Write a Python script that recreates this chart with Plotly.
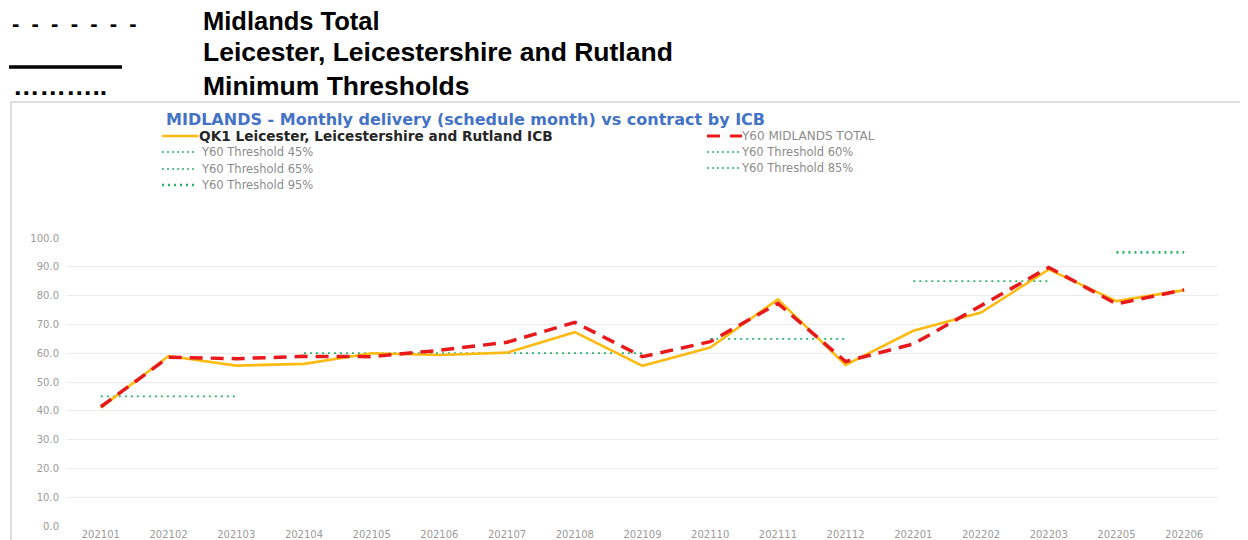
import plotly.graph_objects as go

# ---------------- data ----------------
months = ["202101", "202102", "202103", "202104", "202105", "202106", "202107",
          "202108", "202109", "202110", "202111", "202112", "202201", "202202",
          "202203", "202205", "202206"]
leicester = [41.1, 59.0, 55.7, 56.3, 60.0, 59.4, 60.2, 67.3, 55.6, 62.0, 78.7,
             55.9, 67.8, 74.1, 89.1, 78.1, 81.9]
midlands = [41.4, 58.6, 58.1, 58.9, 58.8, 61.0, 63.8, 70.7, 58.8, 64.0, 77.3,
            57.1, 63.2, 76.5, 89.8, 77.1, 82.0]
threshold_names = ["Y60 Threshold 45%", "Y60 Threshold 60%", "Y60 Threshold 65%",
                   "Y60 Threshold 85%", "Y60 Threshold 95%"]
threshold_values = [45, 60, 65, 85, 95]
threshold_start = ["202101", "202104", "202110", "202201", "202205"]
threshold_end = ["202103", "202109", "202112", "202203", "202206"]
y_ticks = [0, 10, 20, 30, 40, 50, 60, 70, 80, 90, 100]

# ---------------- layout geometry ----------------
OFF = 8                      # page body margin of the html page
W, H = 1248 - OFF, 540 - OFF
PL, PR, PT, PB = 67, 1218, 238, 526   # plot area in window pixels


def px(x):
    return (x - PL) / (PR - PL)


def py(y):
    return (PB - y) / (PB - PT)


ORANGE = "#FDBA12"
RED = "#E8191B"
GREEN = "#2DB36A"
CHART_FONT = "DejaVu Sans"
HEAD_FONT = "Liberation Sans"

fig = go.Figure()

# threshold lines
for name, val, s, e in zip(threshold_names, threshold_values,
                           threshold_start, threshold_end):
    i0, i1 = months.index(s), months.index(e)
    ys = [val if i0 <= k <= i1 else None for k in range(len(months))]
    fig.add_trace(go.Scatter(
        x=months, y=ys, mode="lines", name=name, showlegend=False,
        line=dict(color=GREEN, width=2.6 if val == 95 else 1.8,
                  dash="2px,4px"),
        connectgaps=False, hoverinfo="skip"))

fig.add_trace(go.Scatter(
    x=months, y=leicester, mode="lines",
    name="QK1 Leicester, Leicestershire and Rutland ICB", showlegend=False,
    line=dict(color=ORANGE, width=2.6)))
fig.add_trace(go.Scatter(
    x=months, y=midlands, mode="lines", name="Y60 MIDLANDS TOTAL",
    showlegend=False, line=dict(color=RED, width=3.5, dash="13px,8px")))

shapes = []
annotations = []


def note(text, x, y, font):
    annotations.append(dict(text=text, x=px(x), y=py(y), xref="paper",
                            yref="paper", xanchor="left", yanchor="middle",
                            showarrow=False, font=font, borderpad=0))


# frame of the pasted chart
shapes.append(dict(type="rect", xref="paper", yref="paper",
                   x0=px(11), x1=px(1243), y0=py(560), y1=py(102),
                   line=dict(color="#D4D4D4", width=1.5), layer="below"))

# ---------- header (black text key) ----------
head = dict(family=HEAD_FONT, size=26.5, color="#000000", weight="bold")
note("- \u00a0".join(["-"] * 6) + "- \u00a0-" if False else " \u00a0".join(["-"] * 7),
     11, 23, dict(head, size=22))
note("Midlands Total", 202, 21, dict(head, size=25.5))
note("Leicester, Leicestershire and Rutland", 202, 52, head)
note("Minimum Thresholds", 202, 86, head)
note("………..", 12, 86, head)
shapes.append(dict(type="line", xref="paper", yref="paper", x0=px(9), x1=px(122),
                   y0=py(67), y1=py(67), line=dict(color="#000000", width=3.5)))

# ---------- chart title & legend ----------
note("MIDLANDS - Monthly delivery (schedule month) vs contract by ICB", 165, 120,
     dict(family=CHART_FONT, size=16, color="#4472C4", weight="bold"))

legend_rows = [
    ("QK1 Leicester, Leicestershire and Rutland ICB", 162, 198, 198, 136, "solid"),
    ("Y60 MIDLANDS TOTAL", 707, 742, 740, 136, "red"),
    (threshold_names[0], 162, 197, 200, 152, "dot"),
    (threshold_names[1], 707, 740, 740, 152, "dot"),
    (threshold_names[2], 162, 197, 200, 169, "dot"),
    (threshold_names[3], 707, 740, 740, 168, "dot"),
    (threshold_names[4], 162, 197, 200, 185, "dot95"),
]
gray = dict(family=CHART_FONT, size=11.5, color="#8C8C8C")
for text, x0, x1, tx, yy, kind in legend_rows:
    if kind == "solid":
        ln = dict(color=ORANGE, width=2.6)
        fnt = dict(family=CHART_FONT, size=13.7, color="#262626", weight="bold")
    elif kind == "red":
        ln = dict(color=RED, width=3, dash="13px,10px")
        fnt = dict(gray, size=12)
    elif kind == "dot95":
        ln = dict(color=GREEN, width=2.4, dash="2px,4px")
        fnt = gray
    else:
        ln = dict(color=GREEN, width=1.6, dash="2px,3px")
        fnt = gray
    shapes.append(dict(type="line", xref="paper", yref="paper", x0=px(x0),
                       x1=px(x1), y0=py(yy), y1=py(yy), line=ln))
    note(text, tx, yy, fnt)

fig.update_layout(
    width=W, height=H,
    margin=dict(l=PL - OFF, r=W - (PR - OFF), t=PT - OFF, b=H - (PB - OFF),
                autoexpand=False),
    paper_bgcolor="white", plot_bgcolor="white",
    showlegend=False,
    shapes=shapes, annotations=annotations,
    xaxis=dict(type="category", categoryorder="array", categoryarray=months,
               range=[-0.5, len(months) - 0.5],
               showgrid=False, zeroline=False, showline=False, ticks="",
               tickfont=dict(family=CHART_FONT, size=10, color="#9A9A9A"),
               ticklabelstandoff=1),
    yaxis=dict(range=[0, 100], tickvals=y_ticks, tickformat=".1f",
               showgrid=True, gridcolor="#EBEBEB", gridwidth=1,
               zeroline=False, showline=False, ticks="",
               tickfont=dict(family=CHART_FONT, size=10, color="#9A9A9A"),
               ticklabelstandoff=7),
)

fig.write_html("out.html")
